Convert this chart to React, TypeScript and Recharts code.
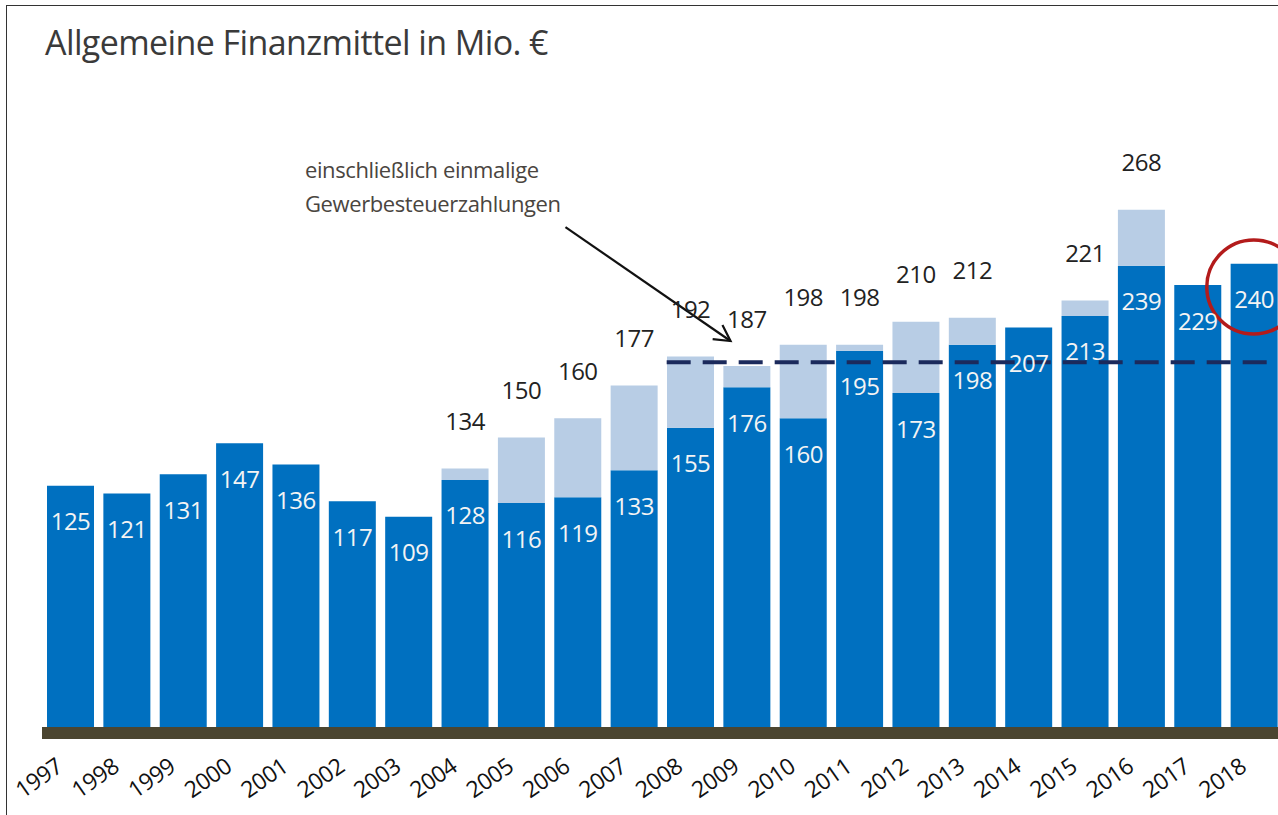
import { Bar, BarChart, LabelList, ReferenceDot, ReferenceLine, XAxis, YAxis } from "recharts";

const YEARS = [
  "1997", "1998", "1999", "2000", "2001", "2002", "2003", "2004", "2005", "2006", "2007",
  "2008", "2009", "2010", "2011", "2012", "2013", "2014", "2015", "2016", "2017", "2018",
];
// without one-off trade tax payments
const BASE = [125, 121, 131, 147, 136, 117, 109, 128, 116, 119, 133, 155, 176, 160, 195, 173, 198, 207, 213, 239, 229, 240];
// including one-off trade tax payments (null = none)
const TOTAL = [null, null, null, null, null, null, null, 134, 150, 160, 177, 192, 187, 198, 198, 210, 212, null, 221, 268, null, null];

const THRESHOLD = 189;
const THRESHOLD_FROM = "2008";
const ARROW_FROM = { year: "2006", value: 259 };
const ARROW_TO = { year: "2009", value: 200 };
const HIGHLIGHT = { year: "2018", value: 228 };

const TITLE = "Allgemeine Finanzmittel in Mio. €";
const NOTE = ["einschließlich einmalige", "Gewerbesteuerzahlungen"];

const DARK = "#0070C0";
const LIGHT = "#B8CDE5";
const FONT = "'Open Sans', sans-serif";

const data = YEARS.map((year, i) => ({
  year,
  base: BASE[i],
  extra: TOTAL[i] != null ? (TOTAL[i] as number) - BASE[i] : null,
  total: TOTAL[i],
}));

const BAR_SIZE = 47;

function InnerLabel(props: any) {
  const { x, y, width, value } = props;
  if (value == null) return null;
  return (
    <text x={x + width / 2} y={y + 35} textAnchor="middle" dominantBaseline="central" fill="#F4F4F4" fontSize={24} fontFamily={FONT} letterSpacing={-0.5}>
      {value}
    </text>
  );
}

function TopLabel(props: any) {
  const { x, y, width, value } = props;
  if (value == null) return null;
  return (
    <text x={x + width / 2} y={y - 48} textAnchor="middle" dominantBaseline="central" fill="#222" fontSize={24} fontFamily={FONT} letterSpacing={-0.5}>
      {value}
    </text>
  );
}

function YearTick(props: any) {
  const { x, y, payload } = props;
  const tx = x - 6;
  const ty = y + 35;
  return (
    <text x={tx} y={ty} textAnchor="end" transform={`rotate(-35 ${tx} ${ty})`} fill="#111" fontSize={23} fontFamily={FONT} letterSpacing={-0.5}>
      {payload.value}
    </text>
  );
}

function AxisBand(props: any) {
  const { x1, x2, y1 } = props;
  return <rect x={x1} y={y1} width={x2 - x1} height={12} fill="#4B4530" />;
}

function DashedLevel(props: any) {
  const { x1, x2, y1 } = props;
  return (
    <line x1={x1 - BAR_SIZE / 2} x2={x2 + 30} y1={y1} y2={y1} stroke="#1B2A5C" strokeWidth={4} strokeDasharray="24 12" />
  );
}

function Arrow(props: any) {
  const { x1, y1, x2, y2 } = props;
  const ax1 = x1 - 12;
  const ax2 = x2 - 16;
  const ang = Math.atan2(y2 - y1, ax2 - ax1);
  const len = 18;
  const a1 = ang + Math.PI - 0.5;
  const a2 = ang + Math.PI + 0.5;
  return (
    <g stroke="#111" strokeWidth={2.2} fill="none">
      <line x1={ax1} y1={y1} x2={ax2} y2={y2} />
      <polyline
        points={`${ax2 + len * Math.cos(a1)},${y2 + len * Math.sin(a1)} ${ax2},${y2} ${ax2 + len * Math.cos(a2)},${y2 + len * Math.sin(a2)}`}
      />
    </g>
  );
}

export default function App() {
  return (
    <div style={{ position: "absolute", left: 0, top: 0, width: 1278, height: 815, overflow: "hidden", background: "#fff" }}>
      <div style={{ position: "absolute", left: 6, top: 5, right: -2, bottom: -2, borderLeft: "1.5px solid #333", borderTop: "1.5px solid #333" }} />
      <div style={{ position: "absolute", left: 45, top: 19, fontFamily: FONT, fontSize: 34, color: "#3A3A3A", letterSpacing: -0.6, whiteSpace: "nowrap" }}>
        {TITLE}
      </div>
      <div style={{ position: "absolute", left: 305, top: 152, fontFamily: FONT, fontSize: 22, lineHeight: "34px", color: "#4A4540", whiteSpace: "nowrap", letterSpacing: -0.4 }}>
        {NOTE.map((t) => (
          <div key={t}>{t}</div>
        ))}
      </div>
      <div style={{ position: "absolute", left: 0, top: 0 }}>
        <BarChart width={1282} height={815} data={data} margin={{ top: 148, right: 0, bottom: 0, left: 42 }} barSize={BAR_SIZE}>
          <XAxis dataKey="year" axisLine={false} tickLine={false} tick={<YearTick />} interval={0} height={88} />
          <YAxis hide domain={[0, 300]} width={0} />
          <ReferenceLine y={0} shape={<AxisBand />} />
          <Bar dataKey="base" stackId="a" fill={DARK} isAnimationActive={false}>
            <LabelList dataKey="base" content={<InnerLabel />} />
          </Bar>
          <Bar dataKey="extra" stackId="a" fill={LIGHT} isAnimationActive={false}>
            <LabelList dataKey="total" content={<TopLabel />} />
          </Bar>
          <ReferenceLine
            segment={[{ x: THRESHOLD_FROM, y: THRESHOLD }, { x: YEARS[YEARS.length - 1], y: THRESHOLD }]}
            shape={<DashedLevel />}
          />
          <ReferenceLine
            segment={[{ x: ARROW_FROM.year, y: ARROW_FROM.value }, { x: ARROW_TO.year, y: ARROW_TO.value }]}
            shape={<Arrow />}
          />
          <ReferenceDot x={HIGHLIGHT.year} y={HIGHLIGHT.value} r={47} fill="none" stroke="#B31B1B" strokeWidth={3.5} />
        </BarChart>
      </div>
    </div>
  );
}
